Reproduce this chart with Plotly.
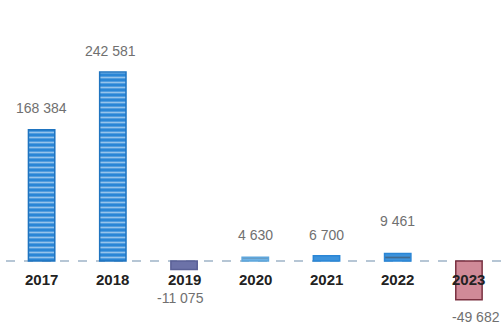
import plotly.graph_objects as go

years = ["2017", "2018", "2019", "2020", "2021", "2022", "2023"]
values = [168384, 242581, -11075, 4630, 6700, 9461, -49682]
value_labels = ["168 384", "242 581", "-11 075", "4 630", "6 700", "9 461", "-49 682"]

# per-bar styling
fills = ["#2a86d6", "#2a86d6", "#6c72a8", "#6fb3e6", "#3d93dc", "#3d93dc", "#d08a98"]
edges = ["#1f74c0", "#1f74c0", "#5a6096", "#5ea6dc", "#2a86d6", "#2a86d6", "#7a3040"]
patterns = ["-", "-", "", "-", "", "-", ""]
label_yshift = [22, 21, -28, 22, 21, 33, -17]
label_xshift = [0, -2, -4, 0, 0, 0, 7]

fig = go.Figure()
fig.add_trace(go.Bar(
    x=years, y=values, width=0.37,
    marker=dict(
        color=fills,
        line=dict(color=edges, width=1.5),
        pattern=dict(shape=patterns, fgcolor="rgba(255,255,255,0.9)",
                     size=5, solidity=0.35, fillmode="overlay"),
    ),
    showlegend=False, hoverinfo="skip",
))

# baseline
fig.add_shape(type="line", xref="paper", x0=0, x1=1, yref="y", y0=0, y1=0,
              line=dict(color="#9fb4c8", width=1.5, dash="dash"), layer="below")

# value labels
for i, (v, t, ys, xs) in enumerate(zip(values, value_labels, label_yshift, label_xshift)):
    fig.add_annotation(x=i, y=v, xref="x", yref="y", text=t, showarrow=False,
                       yshift=ys, xshift=xs,
                       font=dict(family="Liberation Sans", size=14, color="#707070"))

# category labels sitting under the baseline
for i, yr in enumerate(years):
    fig.add_annotation(x=i, y=0, xref="x", yref="y", text="<b>" + yr + "</b>",
                       showarrow=False, yshift=-19,
                       font=dict(family="Liberation Sans", size=15, color="#222222"))

fig.update_layout(
    width=501, height=324,
    margin=dict(l=6, r=0, t=0, b=0),
    paper_bgcolor="white", plot_bgcolor="white",
    xaxis=dict(visible=False, type="category", range=[-0.5, 6.45]),
    yaxis=dict(visible=False, range=[-80900, 335000]),
    bargap=0.6,
)

fig.write_html("out.html")
